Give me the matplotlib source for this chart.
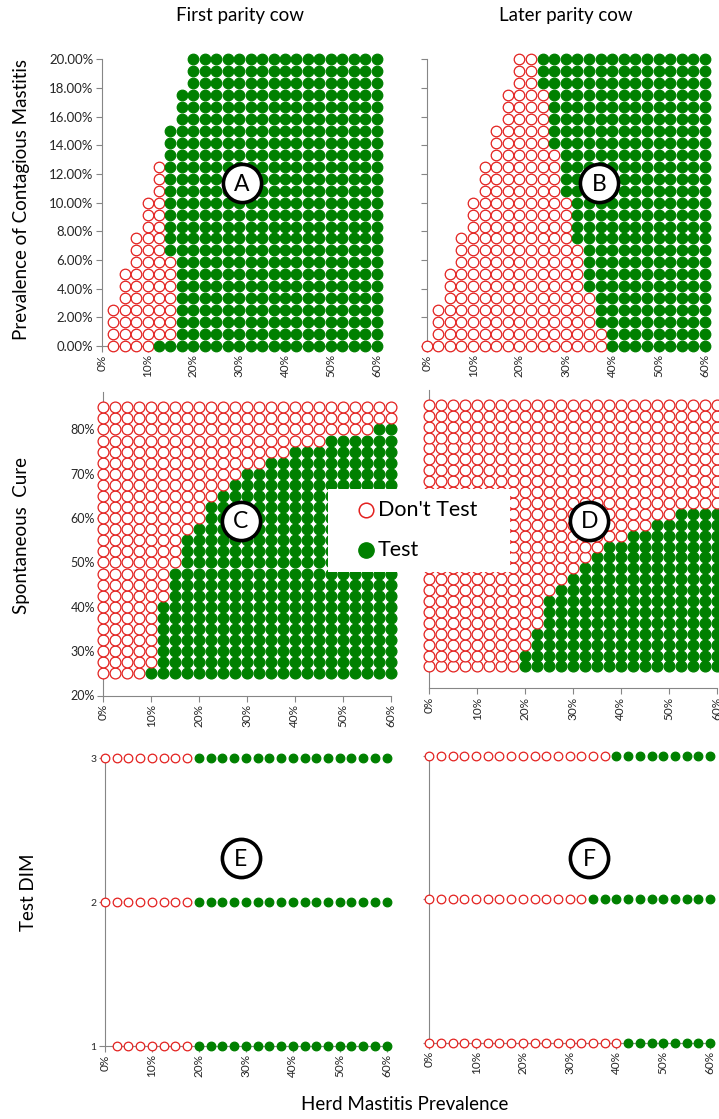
#Mapa de decision: probar o no probar
import matplotlib.pyplot as plt
from matplotlib.patches import Rectangle

plt.rcParams['font.family'] = ['Lato', 'DejaVu Sans']

#Datos
herd_pct = [0, 2.5, 5, 7.5, 10, 12.5, 15, 17.5, 20, 22.5, 25, 27.5, 30,
            32.5, 35, 37.5, 40, 42.5, 45, 47.5, 50, 52.5, 55, 57.5, 60]
contagious_pct = [0.00, 0.83, 1.67, 2.50, 3.33, 4.17, 5.00, 5.83, 6.67, 7.50,
                  8.33, 9.17, 10.00, 10.83, 11.67, 12.50, 13.33, 14.17, 15.00,
                  15.83, 16.67, 17.50, 18.33, 19.17, 20.00]
cure_pct = [25, 27.5, 30, 32.5, 35, 37.5, 40, 42.5, 45, 47.5, 50, 52.5, 55,
            57.5, 60, 62.5, 65, 67.5, 70, 72.5, 75, 77.5, 80, 82.5, 85]
test_dim = [1, 2, 3]

# primer valor de prevalencia del hato dibujado en cada fila
a_first = [2.5, 2.5, 2.5, 2.5, 5, 5, 5, 7.5, 7.5, 7.5, 10, 10, 10,
           12.5, 12.5, 12.5, 15, 15, 15, 17.5, 17.5, 17.5, 20, 20, 20]
b_first = [0, 2.5, 2.5, 2.5, 5, 5, 5, 7.5, 7.5, 7.5, 10, 10, 10,
           12.5, 12.5, 12.5, 15, 15, 15, 17.5, 17.5, 17.5, 20, 20, 20]
c_first = [0] * 25
d_first = [0] * 25
e_first = [2.5, 0, 0]
f_first = [0, 0, 0]

# prevalencia del hato desde la cual conviene hacer la prueba (None = nunca)
a_test = [12.5, 17.5, 17.5, 17.5, 17.5, 17.5, 17.5, 17.5, 15, 15, 15, 15, 15,
          15, 15, 15, 15, 15, 15, 17.5, 17.5, 17.5, 20, 20, 20]
b_test = [40, 40, 37.5, 37.5, 37.5, 35, 35, 35, 35, 32.5, 32.5, 32.5, 32.5,
          30, 30, 30, 30, 27.5, 27.5, 27.5, 27.5, 27.5, 25, 25, 25]
c_test = [10, 12.5, 12.5, 12.5, 12.5, 12.5, 12.5, 15, 15, 15, 17.5, 17.5, 17.5,
          20, 22.5, 22.5, 25, 27.5, 30, 35, 40, 47.5, 57.5, None, None]
d_test = [20, 20, 22.5, 22.5, 25, 25, 25, 27.5, 30, 32.5, 35, 37.5, 42.5,
          47.5, 52.5, None, None, None, None, None, None, None, None, None, None]
e_test = [20, 20, 20]
f_test = [42.5, 35, 40]

rojo = '#e3211f'
verde = '#008000'
gris = '#868686'
W, H = 719, 1119

fig = plt.figure(figsize=(W / 100, H / 100), dpi=100)


def ejes(x0, x1, ytop, ybot):
    return fig.add_axes([x0 / W, 1 - ybot / H, (x1 - x0) / W, (ybot - ytop) / H])


def puntos(ax, filas, first, test, ms, mew):
    for yv, f, t in zip(filas, first, test):
        xs = [x for x in herd_pct if x >= f]
        rx = [x for x in xs if t is None or x < t]
        gx = [x for x in xs if t is not None and x >= t]
        ax.plot(rx, [yv] * len(rx), 'o', ms=ms, mfc='white', mec=rojo,
                mew=mew, clip_on=False, zorder=3)
        ax.plot(gx, [yv] * len(gx), 'o', ms=ms, mfc=verde, mec=verde,
                mew=mew, clip_on=False, zorder=3)


def estilo(ax, ylabels=True):
    for s in ['top', 'right']:
        ax.spines[s].set_visible(False)
    for s in ['left', 'bottom']:
        ax.spines[s].set_color(gris)
    ax.set_facecolor('none')
    ax.set_xlim(0, 60)
    ax.set_xticks([0, 10, 20, 30, 40, 50, 60])
    ax.set_xticklabels(['{}%'.format(v) for v in [0, 10, 20, 30, 40, 50, 60]],
                       rotation=90, fontsize=8.5, color='#262626')
    ax.tick_params(axis='both', length=4, color=gris, pad=2)
    if not ylabels:
        ax.tick_params(axis='y', labelleft=False)


# A y B
axA = ejes(101.7, 376.7, 59.3, 346)
axB = ejes(426.7, 705, 59.3, 346)
for ax in [axA, axB]:
    ax.set_ylim(0, 20)
    ax.set_yticks(range(0, 21, 2))
    ax.set_yticklabels(['{:.2f}%'.format(v) for v in range(0, 21, 2)],
                       fontsize=9.5, color='#262626')
puntos(axA, contagious_pct, a_first, a_test, 7.6, 0.9)
puntos(axB, contagious_pct, b_first, b_test, 7.6, 0.9)
estilo(axA)
estilo(axB, ylabels=False)

# C y D
axC = ejes(103.3, 390.7, 391.8, 695.5)
axC.set_ylim(20, 88.5)
axD = ejes(429.3, 716.6, 390, 688.3)
axD.set_ylim(20.5, 88.4)
for ax in [axC, axD]:
    ax.set_yticks([20, 30, 40, 50, 60, 70, 80])
    ax.set_yticklabels(['20%', '30%', '40%', '50%', '60%', '70%', '80%'],
                       fontsize=9, color='#262626')
puntos(axC, cure_pct, c_first, c_test, 7.8, 0.9)
puntos(axD, cure_pct, d_first, d_test, 7.8, 0.9)
estilo(axC)
estilo(axD, ylabels=False)
axD.tick_params(axis='y', length=0)

# E y F
axE = ejes(105, 386.7, 758.3, 1046)
axF = ejes(429.3, 710, 756, 1042.7)
for ax in [axE, axF]:
    ax.set_ylim(1, 3)
    ax.set_yticks(test_dim)
    ax.set_yticklabels([str(v) for v in test_dim], fontsize=7.5, color='#262626')
puntos(axE, test_dim, e_first, e_test, 6.2, 0.9)
puntos(axF, test_dim, f_first, f_test, 6.2, 0.9)
estilo(axE)
estilo(axF, ylabels=False)

# Textos y etiquetas
ov = fig.add_axes([0, 0, 1, 1])
ov.set_xlim(0, W)
ov.set_ylim(H, 0)
ov.axis('off')
ov.set_zorder(20)
ov.patch.set_alpha(0)

ov.text(240, 16, 'First parity cow', ha='center', va='center', fontsize=13.5)
ov.text(566, 16, 'Later parity cow', ha='center', va='center', fontsize=13.5)
ov.text(22, 200, 'Prevalence of Contagious Mastitis', rotation=90,
        ha='center', va='center', fontsize=13.5)
ov.text(22, 535, 'Spontaneous  Cure', rotation=90, ha='center', va='center',
        fontsize=13.5)
ov.text(28, 892, 'Test DIM', rotation=90, ha='center', va='center', fontsize=13.5)
ov.text(405, 1104, 'Herd Mastitis Prevalence', ha='center', va='center',
        fontsize=13.5)

letras = ['A', 'B', 'C', 'D', 'E', 'F']
lx = [241.7, 599, 241, 589.3, 241, 589]
ly = [183.3, 183.3, 520.7, 520.7, 858.3, 858.3]
for t, x, y in zip(letras, lx, ly):
    ov.plot(x, y, 'o', ms=27.5, mfc='white', mec='black', mew=2.6)
    ov.text(x, y + 1, t, ha='center', va='center', fontsize=16.5)

# Leyenda
ov.add_patch(Rectangle((328, 489), 182, 83, fc='white', ec='none'))
ov.plot(366, 510, 'o', ms=10.5, mfc='white', mec=rojo, mew=1.1)
ov.plot(366, 550, 'o', ms=11, mfc=verde, mec=verde)
ov.text(378, 510, "Don't Test", ha='left', va='center', fontsize=15.5)
ov.text(378, 550, 'Test', ha='left', va='center', fontsize=15.5)

fig.savefig('out.png', dpi=100)
